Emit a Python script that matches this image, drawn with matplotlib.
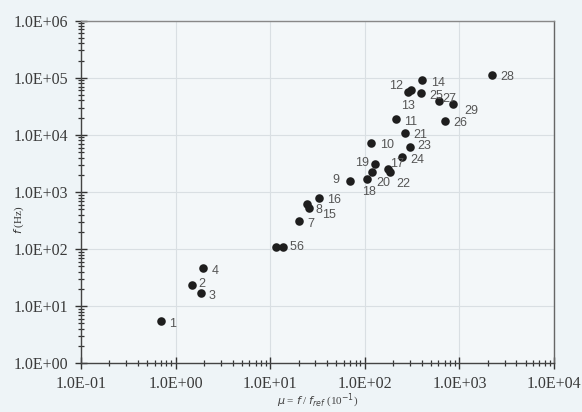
import numpy as np
import matplotlib
matplotlib.use("Agg")
import matplotlib.pyplot as plt
from matplotlib.ticker import LogLocator, FixedLocator, FixedFormatter, NullFormatter

# point data
labels = [str(i) for i in range(1, 30)]
mu = [0.70, 1.48, 1.84, 1.97, 11.6, 13.6, 20.1, 24.5, 70, 117,
      212, 287, 308, 407, 25.5, 32.7, 174, 106, 127, 120,
      269, 183, 303, 249, 388, 710, 615, 2200, 853]
freq = [5.5, 23.5, 17.2, 46, 111, 109, 310, 609, 1560, 7300,
        19000, 56400, 60000, 91600, 518, 794, 2480, 1670, 3030, 2240,
        10700, 2240, 6070, 4100, 54200, 17700, 39700, 113000, 34500]

tick_vals_x = [1e-1, 1e0, 1e1, 1e2, 1e3, 1e4]
tick_text_x = ["1.0E-01", "1.0E+00", "1.0E+01", "1.0E+02", "1.0E+03", "1.0E+04"]
tick_vals_y = [1e0, 1e1, 1e2, 1e3, 1e4, 1e5, 1e6]
tick_text_y = ["1.0E+00", "1.0E+01", "1.0E+02", "1.0E+03", "1.0E+04", "1.0E+05", "1.0E+06"]

# label offsets in points (default: right of the dot)
offsets = {"2": (5, 1), "5": (9.3, 0), "6": (9.6, 0), "8": (6, -4), "9": (-13, 1),
           "12": (-14, 4), "13": (-7, -11), "17": (2, 4), "18": (-4, -9),
           "19": (-14, 1), "20": (3, -8), "22": (5, -9), "27": (2, 1),
           "29": (8, -5), "15": (10, -5), "23": (5, 1), "21": (6, -1)}

bg = "#eef4f7"
fig = plt.figure(figsize=(5.82, 4.12), dpi=100, facecolor=bg)
ax = fig.add_axes([0.139, 0.118, 0.813, 0.832], facecolor="#f3f7f9")

ax.set_xscale("log")
ax.set_yscale("log")
ax.set_xlim(1e-1, 1e4)
ax.set_ylim(1e0, 1e6)

ax.scatter(mu, freq, s=38, color="#1e1e1e", zorder=3, linewidths=0)
for lab, x, y in zip(labels, mu, freq):
    dx, dy = offsets.get(lab, (6, -2))
    ax.annotate(lab, (x, y), xytext=(dx, dy), textcoords="offset points",
                fontsize=9, color="#555555", family="Liberation Sans",
                va="center", ha="left")

ax.xaxis.set_major_locator(FixedLocator(tick_vals_x))
ax.xaxis.set_major_formatter(FixedFormatter(tick_text_x))
ax.yaxis.set_major_locator(FixedLocator(tick_vals_y))
ax.yaxis.set_major_formatter(FixedFormatter(tick_text_y))
ax.xaxis.set_minor_locator(LogLocator(base=10, subs=np.arange(2, 10), numticks=20))
ax.yaxis.set_minor_locator(LogLocator(base=10, subs=np.arange(2, 10), numticks=20))
ax.xaxis.set_minor_formatter(NullFormatter())
ax.yaxis.set_minor_formatter(NullFormatter())

ax.tick_params(which="major", direction="inout", length=8, width=1, color="#333333",
               labelsize=11.5, labelcolor="#3a3a3a", pad=5)
ax.tick_params(which="minor", direction="inout", length=5, width=0.9, color="#333333")
for t in ax.get_xticklabels() + ax.get_yticklabels():
    t.set_family("Liberation Serif")

ax.grid(True, which="major", color="#d9dfe3", linewidth=0.8)
for s in ax.spines.values():
    s.set_color("#444444")
    s.set_linewidth(1.0)
ax.spines["top"].set_color("#888888")
ax.spines["right"].set_color("#666666")

ax.set_ylabel(r"$f$ (Hz)", fontsize=8, color="#333333", family="Liberation Serif", labelpad=2)
ax.set_xlabel(r"$\mu$ = $f$ / $f_{ref}$ (10$^{-1}$)", fontsize=8, color="#444444",
              family="Liberation Serif", labelpad=0)
ax.yaxis.set_label_coords(-0.115, 0.42)

fig.savefig("out.png", dpi=100, facecolor=bg)
